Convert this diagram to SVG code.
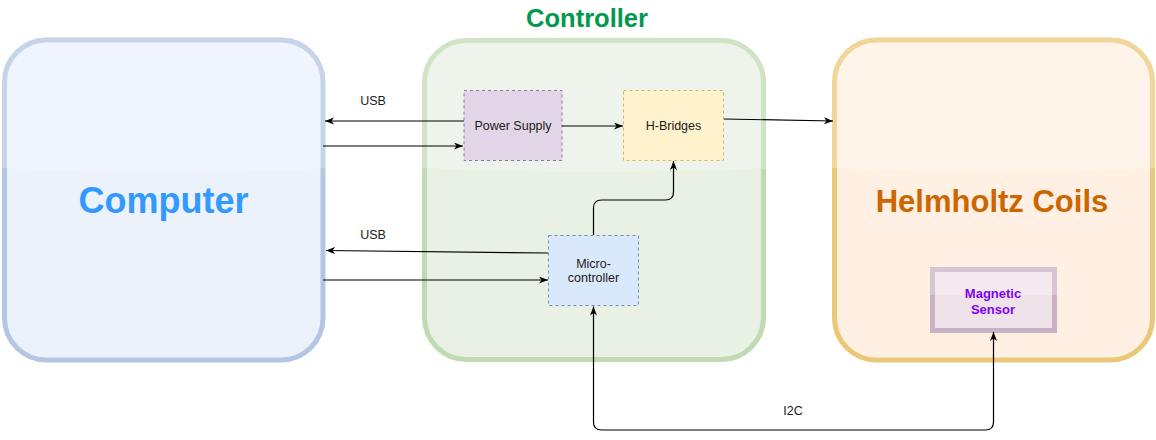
<svg xmlns="http://www.w3.org/2000/svg" width="1156" height="440" viewBox="0 0 1156 440">
<style>
.lbl{font-family:"Liberation Sans",Arial,Helvetica,sans-serif;font-size:12.5px;fill:#1a1a1a;text-anchor:middle}
.big{font-family:"Liberation Sans",Arial,Helvetica,sans-serif;font-weight:bold;text-anchor:middle}
.conn{fill:none;stroke:#000;stroke-width:1.2}
.glass{fill:#fff;fill-opacity:0.25}
</style>
<defs>
<marker id="arr" markerUnits="userSpaceOnUse" markerWidth="10" markerHeight="8" refX="9" refY="3.5" orient="auto-start-reverse">
<path d="M0,0 L9,3.5 L0,7 L2.5,3.5 z" fill="#000"/>
</marker>
<clipPath id="clipComp"><rect x="2" y="37.5" width="323.5" height="325" rx="44"/></clipPath>
<clipPath id="clipCtrl"><rect x="422" y="38" width="344" height="324" rx="44"/></clipPath>
<clipPath id="clipHelm"><rect x="832" y="37.5" width="323" height="325" rx="44"/></clipPath>
<clipPath id="clipSens"><rect x="930" y="267" width="127" height="66"/></clipPath>
</defs>

<g id="computer">
<rect x="4.5" y="40" width="318.5" height="320" rx="42" fill="#ebf2fc" stroke="#b3c6e2" stroke-width="5"/>
<path class="glass" clip-path="url(#clipComp)" d="M0,30 L330,30 L330,168 Q163,176 0,168 Z"/>
<text class="big" x="163.5" y="213" font-size="36" fill="#3399FF">Computer</text>
</g>

<g id="controller">
<rect x="424.5" y="40.5" width="339" height="319" rx="42" fill="#e8f1e4" stroke="#c2dab3" stroke-width="5"/>
<path class="glass" clip-path="url(#clipCtrl)" d="M420,30 L770,30 L770,168 Q594,176 420,168 Z"/>
<text class="big" x="587" y="27" font-size="25.5" fill="#00994D">Controller</text>
</g>

<g id="helmholtz">
<rect x="834.5" y="40" width="318" height="320" rx="42" fill="#fff0e3" stroke="#ebc878" stroke-width="5"/>
<path class="glass" clip-path="url(#clipHelm)" d="M830,30 L1160,30 L1160,168 Q994,176 830,168 Z"/>
<text class="big" x="992" y="212" font-size="31" fill="#CC6600">Helmholtz Coils</text>
</g>

<g id="power-supply">
<rect x="464" y="90.5" width="98" height="70" fill="#e1d5e7" stroke="#9673a6" stroke-width="1" stroke-dasharray="3,3"/>
<text class="lbl" x="513" y="129.5">Power Supply</text>
</g>

<g id="h-bridges">
<rect x="623.5" y="90.5" width="100" height="70" fill="#fff2cc" stroke="#d6b656" stroke-width="1" stroke-dasharray="3,3"/>
<text class="lbl" x="673.5" y="130">H-Bridges</text>
</g>

<g id="microcontroller">
<rect x="548.5" y="235.5" width="90" height="70" fill="#dae8fc" stroke="#6c8ebf" stroke-width="1" stroke-dasharray="3,3"/>
<text class="lbl" x="593.5" y="268">Micro-</text>
<text class="lbl" x="593.5" y="282">controller</text>
</g>

<g id="magnetic-sensor">
<rect x="932.5" y="269.5" width="122" height="61" fill="#efe2e8" stroke="#cab1c6" stroke-width="5"/>
<path class="glass" clip-path="url(#clipSens)" d="M928,265 L1060,265 L1060,295 L928,295 Z"/>
<text class="big" x="993" y="298" font-size="13" fill="#7F00FF">Magnetic</text>
<text class="big" x="993" y="314" font-size="13" fill="#7F00FF">Sensor</text>
</g>

<g id="connectors">
<path class="conn" d="M464,121 L325,121" marker-end="url(#arr)"/>
<path class="conn" d="M323,146 L463,146" marker-end="url(#arr)"/>
<path class="conn" d="M562,126 L623,126" marker-end="url(#arr)"/>
<path class="conn" d="M724,119 L833,121" marker-end="url(#arr)"/>
<path class="conn" d="M548,253 L326,250.5" marker-end="url(#arr)"/>
<path class="conn" d="M323,280 L548,280" marker-end="url(#arr)"/>
<path class="conn" d="M593.5,235 L593.5,208 Q593.5,200 601.5,200 L665.5,200 Q673.5,200 673.5,192 L673.5,161" marker-end="url(#arr)"/>
<path class="conn" d="M593.5,306.5 L593.5,422 Q593.5,430 601.5,430 L985.5,430 Q993.5,430 993.5,422 L993.5,332" marker-start="url(#arr)" marker-end="url(#arr)"/>
<text class="lbl" x="373" y="105" font-size="11.5">USB</text>
<text class="lbl" x="373" y="239" font-size="11.5">USB</text>
<text class="lbl" x="793" y="415" font-size="11.5">I2C</text>
</g>
</svg>
